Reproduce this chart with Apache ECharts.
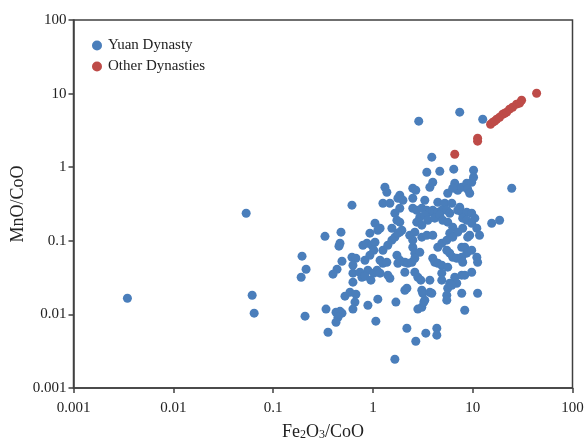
<!DOCTYPE html>
<html>
<head>
    <meta charset="utf-8"/>
    <title>MnO/CoO vs Fe2O3/CoO</title>
    <script src="https://cdn.jsdelivr.net/npm/echarts@6/dist/echarts.min.js"></script>
    <style>
        html, body { margin: 0; padding: 0; background: #fff; }
        #chart1 { width: 585px; height: 442px; }
    </style>
</head>
<body>
<div id="chart1"></div>
<script type="text/javascript">
    // 坐标轴刻度
    var xTicks = [0.001, 0.01, 0.1, 1, 10, 100];
    var yTicks = [0.001, 0.01, 0.1, 1, 10, 100];

    // Yuan Dynasty: [Fe2O3/CoO, MnO/CoO]
    var yuanData = [
        [2.88, 4.22], [7.41, 5.59], [12.6, 4.49], [3.89, 1.37], [3.47, 0.855],
        [4.68, 0.88], [6.46, 0.94], [10.2, 0.91], [1.32, 0.535], [1.38, 0.457],
        [2.51, 0.518], [2.69, 0.487], [3.72, 0.535], [3.98, 0.625], [6.61, 0.606],
        [7.08, 0.487], [7.76, 0.535], [8.71, 0.606], [9.77, 0.625], [10.2, 0.731],
        [8.91, 0.502], [9.33, 0.443], [5.62, 0.443], [6.31, 0.518], [24.6, 0.518],
        [1.86, 0.417], [1.78, 0.379], [0.617, 0.305], [1.26, 0.324], [1.48, 0.324],
        [2.0, 0.356], [2.51, 0.379], [3.31, 0.356], [4.47, 0.334], [5.25, 0.324],
        [6.17, 0.324], [7.41, 0.286], [1.86, 0.277], [2.51, 0.277], [2.75, 0.26],
        [3.09, 0.277], [3.47, 0.26], [3.72, 0.245], [3.98, 0.26], [4.47, 0.245],
        [4.9, 0.26], [5.5, 0.26], [5.89, 0.237], [7.08, 0.26], [7.76, 0.245],
        [8.71, 0.245], [9.77, 0.237], [10.5, 0.203], [1.66, 0.237], [1.74, 0.19],
        [2.95, 0.209], [3.31, 0.223], [3.55, 0.19], [4.17, 0.203], [4.68, 0.223],
        [5.01, 0.19], [5.62, 0.179], [7.94, 0.203], [8.71, 0.19], [9.77, 0.173],
        [15.5, 0.173], [18.6, 0.19], [1.05, 0.173], [1.18, 0.148], [1.55, 0.148],
        [1.86, 0.179], [2.75, 0.179], [3.09, 0.163], [6.31, 0.153], [7.94, 0.148],
        [11.0, 0.148], [0.0537, 0.237], [0.479, 0.131], [0.331, 0.115], [0.468, 0.0927],
        [0.457, 0.0845], [0.933, 0.127], [1.12, 0.139], [1.86, 0.131], [2.34, 0.119],
        [1.95, 0.139], [2.63, 0.131], [3.09, 0.112], [3.47, 0.119], [3.98, 0.119],
        [5.89, 0.127], [7.08, 0.131], [9.33, 0.119], [11.7, 0.119], [8.91, 0.112],
        [4.47, 0.0818], [4.9, 0.0927], [5.5, 0.102], [6.31, 0.112], [0.794, 0.0871],
        [0.871, 0.0927], [0.977, 0.0871], [1.05, 0.0957], [1.02, 0.0745], [0.933, 0.0637],
        [1.26, 0.0745], [1.41, 0.0871], [1.55, 0.102], [1.66, 0.112], [1.78, 0.127],
        [1.74, 0.0637], [2.51, 0.0818], [2.51, 0.102], [2.63, 0.0679], [2.95, 0.07],
        [5.5, 0.0745], [5.89, 0.0679], [7.76, 0.0818], [8.32, 0.0818], [8.71, 0.0679],
        [9.77, 0.0745], [0.195, 0.0618], [0.49, 0.0528], [0.617, 0.0598], [0.676, 0.058],
        [0.832, 0.0545], [1.18, 0.0545], [1.26, 0.0496], [1.38, 0.0512], [0.214, 0.0411],
        [0.191, 0.032], [0.437, 0.0411], [0.398, 0.0352], [0.631, 0.0466], [0.631, 0.0363],
        [0.741, 0.0374], [0.891, 0.0399], [0.776, 0.032], [0.832, 0.033], [0.955, 0.0292],
        [1.02, 0.0363], [1.10, 0.0399], [1.18, 0.0363], [1.41, 0.0341], [1.48, 0.031],
        [1.78, 0.0496], [1.86, 0.0545], [2.09, 0.0512], [2.24, 0.0496], [2.46, 0.0512],
        [2.63, 0.058], [3.98, 0.058], [4.17, 0.0512], [4.47, 0.0496], [4.9, 0.0466],
        [6.31, 0.0598], [6.92, 0.058], [7.76, 0.0598], [7.94, 0.0512], [11.0, 0.0598],
        [11.2, 0.0512], [5.62, 0.0438], [2.09, 0.0374], [2.63, 0.0374], [2.82, 0.032],
        [3.02, 0.0292], [3.72, 0.0292], [4.9, 0.0363], [4.9, 0.0292], [6.61, 0.032],
        [7.76, 0.0341], [8.32, 0.0341], [9.77, 0.0374], [0.631, 0.0274], [2.19, 0.0227],
        [2.09, 0.0213], [3.09, 0.0213], [3.16, 0.0194], [3.72, 0.02], [3.89, 0.0194],
        [5.89, 0.0265], [5.62, 0.0227], [5.5, 0.0182], [6.92, 0.0265], [6.17, 0.0249],
        [7.76, 0.0194], [11.2, 0.0194], [0.525, 0.0177], [0.589, 0.02], [0.676, 0.0188],
        [0.661, 0.0147], [1.12, 0.0161], [0.891, 0.0133], [1.70, 0.0147], [3.31, 0.0156],
        [5.5, 0.0156], [2.82, 0.0118], [3.09, 0.0125], [3.24, 0.0147], [8.32, 0.0114],
        [0.209, 0.00946], [0.339, 0.0118], [0.427, 0.0107], [0.468, 0.011], [0.49, 0.0104],
        [0.447, 0.00916], [0.427, 0.00783], [0.355, 0.00573], [0.631, 0.0118], [1.07, 0.00809],
        [2.19, 0.00649], [3.39, 0.00556], [2.69, 0.00432], [4.37, 0.00649], [4.37, 0.00522],
        [1.66, 0.00246], [0.00347, 0.0166], [0.0617, 0.0182], [0.0646, 0.0104]
    ];

    // Other Dynasties
    var otherData = [
        [6.61, 1.50], [11.2, 2.48], [11.2, 2.26], [15.1, 3.84], [15.9, 4.09],
        [16.6, 4.22], [17.4, 4.49], [18.6, 4.78], [20.0, 5.25], [20.9, 5.40],
        [21.9, 5.59], [23.4, 6.14], [25.1, 6.53], [27.5, 7.18], [29.5, 7.41],
        [30.9, 8.13], [43.7, 10.1]
    ];

    var seriesNames = ['Yuan Dynasty', 'Other Dynasties'];

    var axisColor = '#404040';
    var fontFamily = '"Liberation Serif", "DejaVu Serif", serif';

    function fmt(v) {
        return String(+Number(v).toPrecision(3));
    }

    function logAxis(ticks, name, pos) {
        return {
            type: 'log',
            logBase: 10,
            min: ticks[0],
            max: ticks[ticks.length - 1],
            position: pos,
            name: name,
            nameLocation: 'middle',
            nameMoveOverlap: false,
            axisLine: {show: true, lineStyle: {color: axisColor, width: 1.5}},
            axisTick: {show: true, inside: false, length: 5, lineStyle: {color: axisColor, width: 1.5}},
            minorTick: {show: false},
            splitLine: {show: false},
            axisLabel: {
                color: '#222',
                fontSize: 15,
                fontFamily: fontFamily,
                formatter: fmt,
                showMinLabel: true,
                showMaxLabel: true
            }
        };
    }

    var myChart1 = echarts.init(document.getElementById('chart1'), null, {renderer: 'canvas'});

    var xAxis = logAxis(xTicks, 'Fe{s|2}O{s|3}/CoO', 'bottom');
    xAxis.nameGap = 35;
    xAxis.axisLabel.margin = 13;
    xAxis.nameTextStyle = {
        color: '#222',
        fontSize: 18,
        fontFamily: fontFamily,
        rich: {
            s: {fontSize: 12, fontFamily: fontFamily, color: '#222', verticalAlign: 'bottom', padding: [6, 0, 0, 0]}
        }
    };

    var yAxis = logAxis(yTicks, 'MnO/CoO', 'left');
    yAxis.nameGap = 46;
    yAxis.axisLabel.margin = 7;
    yAxis.nameTextStyle = {color: '#222', fontSize: 18, fontFamily: fontFamily};

    myChart1.setOption({
        animation: false,
        backgroundColor: '#fff',
        color: ['#4a7ebb', '#be4b48'],
        grid: {
            left: 73.5,
            right: 12.5,
            top: 20,
            bottom: 54,
            containLabel: false,
            outerBoundsMode: 'none',
            show: true,
            borderColor: axisColor,
            borderWidth: 1.5,
            backgroundColor: 'transparent'
        },
        legend: {
            orient: 'vertical',
            left: 87,
            top: 33,
            itemWidth: 10,
            itemHeight: 10,
            itemGap: 6,
            icon: 'circle',
            textStyle: {fontSize: 15, fontFamily: fontFamily, color: '#222', padding: [0, 0, 0, 1]},
            data: seriesNames
        },
        xAxis: xAxis,
        yAxis: yAxis,
        series: [
            {
                name: seriesNames[0],
                type: 'scatter',
                symbolSize: 9,
                itemStyle: {color: '#4a7ebb', opacity: 1},
                data: yuanData
            },
            {
                name: seriesNames[1],
                type: 'scatter',
                symbolSize: 9,
                itemStyle: {color: '#be4b48', opacity: 1},
                data: otherData
            }
        ]
    });
</script>
</body>
</html>
